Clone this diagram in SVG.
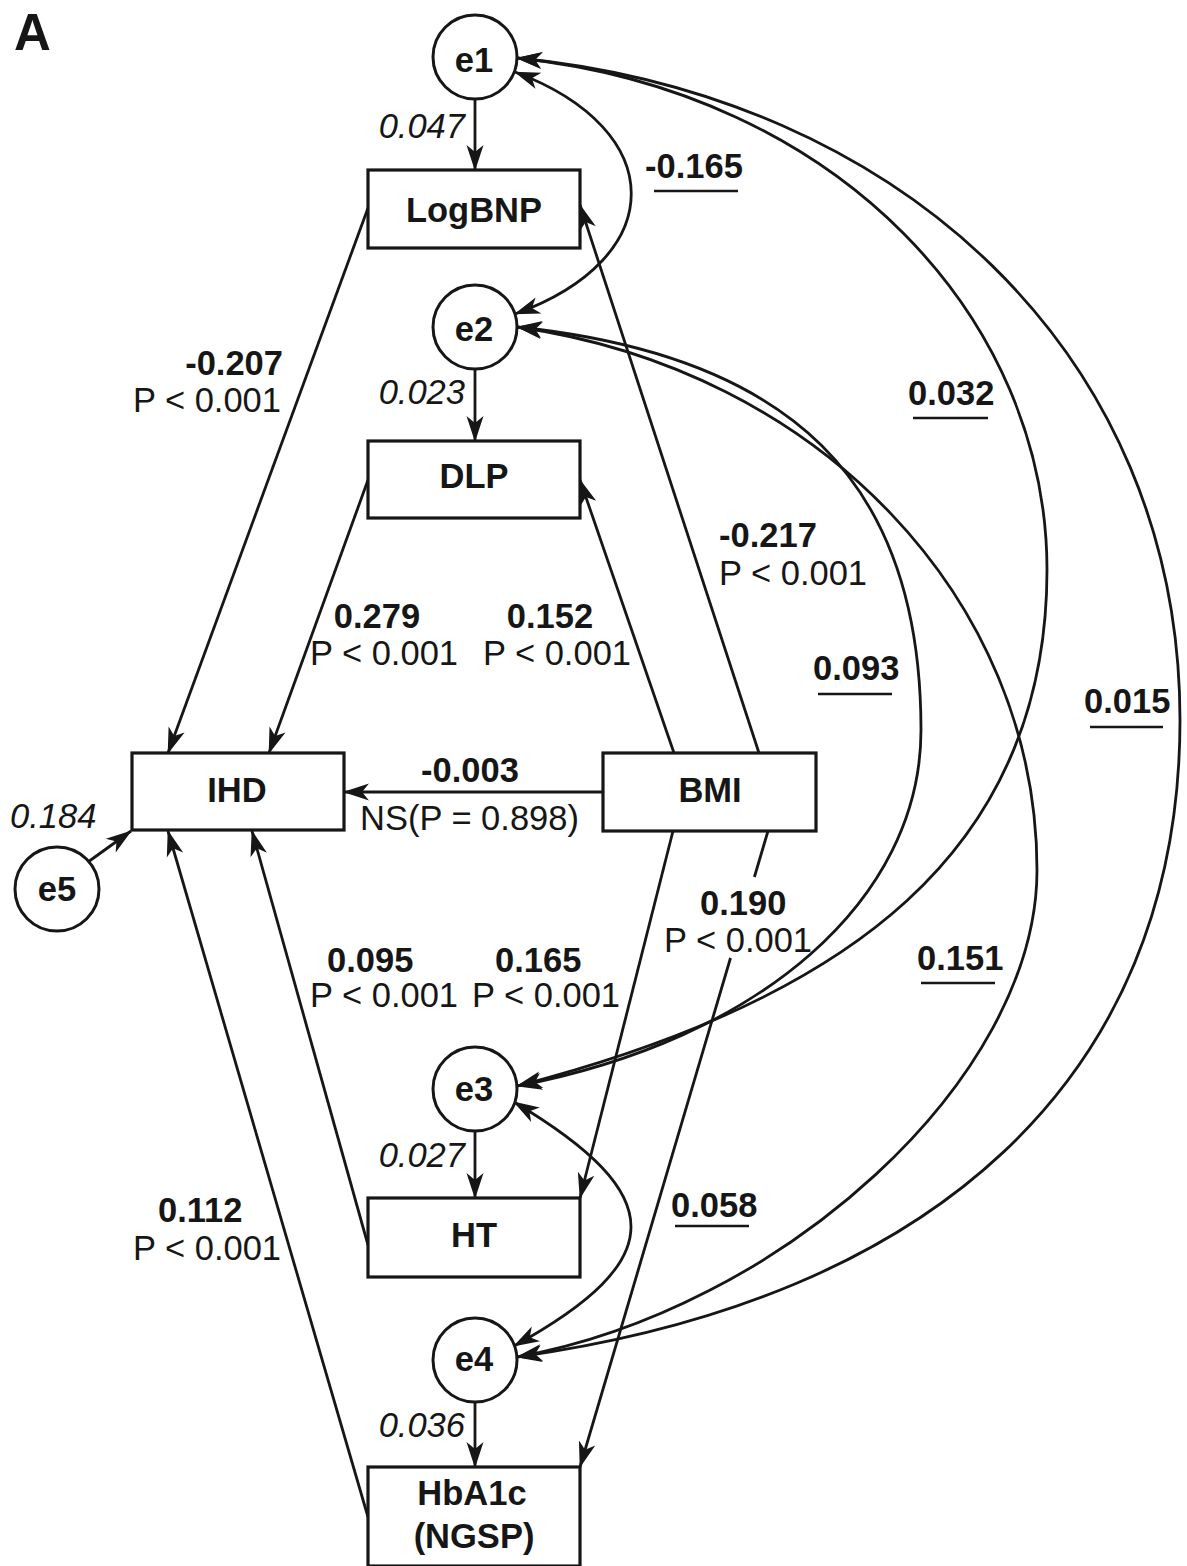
<svg xmlns="http://www.w3.org/2000/svg" width="1187" height="1566" viewBox="0 0 1187 1566">
<style>
.box{fill:#fff;stroke:#161616;stroke-width:3.2}
.ell{fill:#fff;stroke:#161616;stroke-width:3}
.t{font-family:"Liberation Sans",Arial,sans-serif;font-size:34.5px;fill:#161616}
.b{font-weight:bold}
.i{font-style:italic}
.m{text-anchor:middle}
.e{text-anchor:end}
.c{fill:none;stroke:#161616;stroke-width:2.8}
.a{marker-end:url(#ah)}
.d{marker-start:url(#ah);marker-end:url(#ah)}
.u{stroke:#161616;stroke-width:2.6}
</style>
<defs>
<marker id="ah" viewBox="-28 -10 30 20" refX="0" refY="0" markerWidth="30" markerHeight="20" markerUnits="userSpaceOnUse" orient="auto-start-reverse">
<path d="M1,0 L-25,-8.5 L-18,0 L-25,8.5 Z" fill="#161616"/>
</marker>
</defs>
<rect width="1187" height="1566" fill="#fff"/>
<text x="14" y="50" class="t b" style="font-size:51px">A</text>

<g id="connectors">
<path class="c a" d="M475,99 L475,170"/>
<path class="c a" d="M475,369 L475,441"/>
<path class="c a" d="M475,1131 L475,1198"/>
<path class="c a" d="M475,1402 L475,1467"/>
<path class="c a" d="M88,862 L131,831"/>
<path class="c a" d="M368,208 L168,753"/>
<path class="c a" d="M368,480 L269,753"/>
<path class="c a" d="M603,792 L344,792"/>
<path class="c a" d="M674,753 L580,480"/>
<path class="c a" d="M759,753 L580,205"/>
<path class="c a" d="M673,831 L580,1198"/>
<path class="c" d="M768,831 L754.4,877"/>
<path class="c a" d="M730.5,958 L580,1467"/>
<path class="c a" d="M368,1245 L252,831"/>
<path class="c a" d="M368,1517 L168,831"/>
<path class="c d" d="M515,72 C670,130 670,258 515,314"/>
<path class="c d" d="M517,58 C840,92 1047,320 1047,570 C1047,850 850,1000 517,1086"/>
<path class="c d" d="M517,58 C900,95 1180,354 1180,720 C1180,1080 930,1300 517,1357"/>
<path class="c d" d="M517,327 C790,355 921,480 921,730 C921,900 760,1040 517,1086"/>
<path class="c d" d="M517,327 C820,370 1037,600 1037,870 C1037,1080 780,1310 517,1357"/>
<path class="c d" d="M514,1102 C670,1195 670,1260 514,1346"/>
</g>

<g id="e1"><circle class="ell" cx="475" cy="57" r="42"/><text x="474" y="72" class="t b m">e1</text></g>
<g id="e2"><circle class="ell" cx="475" cy="327" r="42"/><text x="474" y="341" class="t b m">e2</text></g>
<g id="e3"><circle class="ell" cx="475" cy="1089" r="42"/><text x="474" y="1101" class="t b m">e3</text></g>
<g id="e4"><circle class="ell" cx="475" cy="1360" r="42"/><text x="474" y="1371" class="t b m">e4</text></g>
<g id="e5"><circle class="ell" cx="57" cy="889" r="42"/><text x="57" y="901" class="t b m">e5</text></g>

<g id="LogBNP"><rect class="box" x="368" y="170" width="212" height="78"/><text x="474" y="222" class="t b m">LogBNP</text></g>
<g id="DLP"><rect class="box" x="368" y="441" width="212" height="77"/><text x="474" y="488" class="t b m">DLP</text></g>
<g id="IHD"><rect class="box" x="132" y="753" width="212" height="77"/><text x="237" y="802" class="t b m">IHD</text></g>
<g id="BMI"><rect class="box" x="603" y="753" width="213" height="78"/><text x="710" y="802" class="t b m">BMI</text></g>
<g id="HT"><rect class="box" x="368" y="1198" width="212" height="79"/><text x="474" y="1247" class="t b m">HT</text></g>
<g id="HbA1c"><rect class="box" x="368" y="1467" width="212" height="99"/><text x="472" y="1505" class="t b m">HbA1c</text><text x="474" y="1548" class="t b m">(NGSP)</text></g>

<g id="labels">
<text x="465" y="138" class="t i e">0.047</text>
<text x="465" y="404" class="t i e">0.023</text>
<text x="465" y="1167" class="t i e">0.027</text>
<text x="465" y="1437" class="t i e">0.036</text>
<text x="10" y="828" class="t i">0.184</text>

<text x="645" y="178" class="t b">-0.165</text>
<line class="u" x1="654" y1="191" x2="738" y2="191"/>
<text x="908" y="405" class="t b">0.032</text>
<line class="u" x1="913" y1="418" x2="988" y2="418"/>
<text x="813" y="680" class="t b">0.093</text>
<line class="u" x1="818" y1="694" x2="892" y2="694"/>
<text x="1084" y="713" class="t b">0.015</text>
<line class="u" x1="1090" y1="727" x2="1163" y2="727"/>
<text x="917" y="970" class="t b">0.151</text>
<line class="u" x1="921" y1="983" x2="995" y2="983"/>
<text x="671" y="1217" class="t b">0.058</text>
<line class="u" x1="675" y1="1226" x2="749" y2="1226"/>

<text x="283" y="375" class="t b e">-0.207</text>
<text x="281" y="412" class="t e">P &lt; 0.001</text>
<text x="719" y="547" class="t b">-0.217</text>
<text x="719" y="585" class="t">P &lt; 0.001</text>
<text x="377" y="628" class="t b m">0.279</text>
<text x="384" y="665" class="t m">P &lt; 0.001</text>
<text x="550" y="628" class="t b m">0.152</text>
<text x="557" y="665" class="t m">P &lt; 0.001</text>
<text x="421" y="782" class="t b">-0.003</text>
<text x="360" y="830" class="t">NS(P = 0.898)</text>
<text x="700" y="915" class="t b">0.190</text>
<text x="664" y="952" class="t">P &lt; 0.001</text>
<text x="327" y="972" class="t b">0.095</text>
<text x="310" y="1007" class="t">P &lt; 0.001</text>
<text x="495" y="972" class="t b">0.165</text>
<text x="472" y="1007" class="t">P &lt; 0.001</text>
<text x="158" y="1222" class="t b">0.112</text>
<text x="133" y="1260" class="t">P &lt; 0.001</text>
</g>
</svg>
